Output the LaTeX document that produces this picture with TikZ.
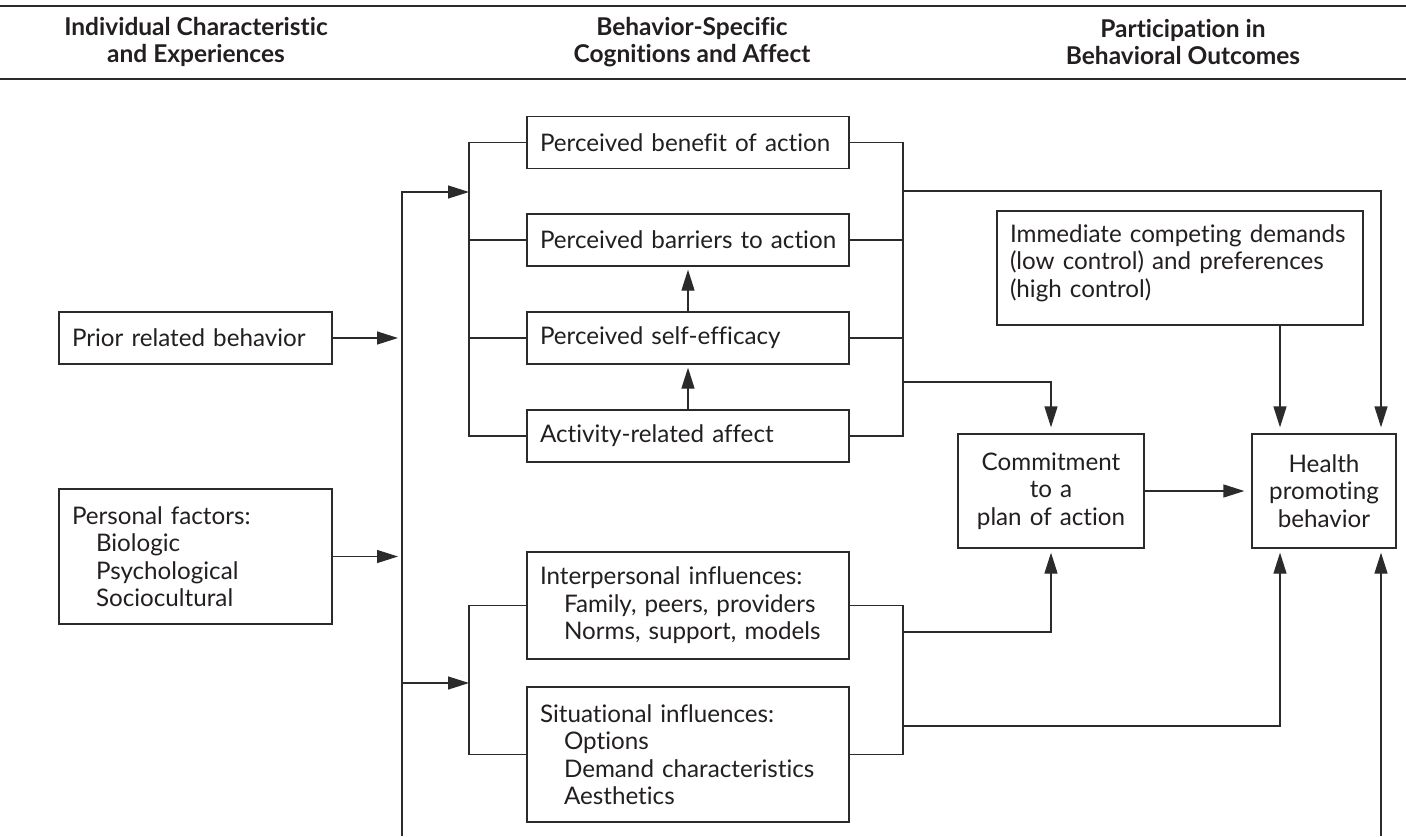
\documentclass[tikz,border=0pt]{standalone}
\usepackage{fontspec}
\setmainfont{Lato}[Ligatures=NoCommon]
\usetikzlibrary{arrows.meta}
\definecolor{ink}{HTML}{2B2B2B}
\definecolor{txt}{HTML}{231F20}
\newcommand{\indln}[1]{\mbox{\hspace*{24pt}#1}}
\newcommand{\oneln}[1]{\mbox{#1}}
\begin{document}
\begin{tikzpicture}[x=1pt,y=-1pt,
  every node/.style={text=txt},
  box/.style={draw=ink, line width=1.3pt, fill=white, inner xsep=13pt, inner ysep=0pt,
    align=left, font=\fontsize{24.2}{27.5}\selectfont},
  cbox/.style={box, align=center},
  conn/.style={draw=ink, line width=1.3pt},
  arr/.style={conn, -{Triangle[length=21pt,width=13pt]}},
  head/.style={font=\fontsize{24.5}{27}\selectfont\bfseries, align=center},
  rule/.style={draw=ink, line width=2pt}]
\useasboundingbox (0,0) rectangle (1406,836);

% header rules and titles
\coordinate (rTL) at (0,6);   \coordinate (rTR) at (1406,6);
\coordinate (rBL) at (0,79);  \coordinate (rBR) at (1406,79);
\draw[rule] (rTL) -- (rTR);
\draw[rule] (rBL) -- (rBR);
\node[head] (h1) at (196,42) {Individual Characteristic\\and Experiences};
\node[head] (h2) at (692,42) {Behavior-Specific\\Cognitions and Affect};
\node[head] (h3) at (1183,42) {Participation in\\Behavioral Outcomes};

% left column
\node[box, text width=247pt, minimum height=52pt] (prior) at (195.5,338) {\oneln{Prior related behavior}};
\node[box, text width=247pt, minimum height=135pt] (pf) at (195.5,556.5)
  {\oneln{Personal factors:}\\\indln{Biologic}\\\indln{Psychological}\\\indln{Sociocultural}};

% middle column
\node[box, text width=296pt, minimum height=52pt] (ben) at (688,142.5) {\oneln{Perceived benefit of action}};
\node[box, text width=296pt, minimum height=52pt] (bar) at (688,240) {\oneln{Perceived barriers to action}};
\node[box, text width=296pt, minimum height=52pt] (eff) at (688,338) {\oneln{Perceived self-efficacy}};
\node[box, text width=296pt, minimum height=52pt] (aff) at (688,436) {\oneln{Activity-related affect}};
\node[box, text width=296pt, minimum height=107pt] (ip) at (688,605.5)
  {\oneln{Interpersonal influences:}\\\indln{Family, peers, providers}\\\indln{Norms, support, models}};
\node[box, text width=296pt, minimum height=135pt] (sit) at (688,754.5)
  {\oneln{Situational influences:}\\\indln{Options}\\\indln{Demand characteristics}\\\indln{Aesthetics}};

% right column
\node[box, text width=340pt, minimum height=114pt] (imm) at (1180,268)
  {\oneln{Immediate competing demands}\\\oneln{(low control) and preferences}\\\oneln{(high control)}\rule[-14pt]{0pt}{14pt}};
\node[cbox, text width=160pt, minimum height=114pt] (cm) at (1051,491)
  {Commitment\\to a\\plan of action};
\node[cbox, text width=118pt, minimum height=114pt] (hl) at (1324,491)
  {Health\\promoting\\behavior};

% helper coordinates
\coordinate (spT) at (402,192);
\coordinate (spM) at (402,683);
\coordinate (spB) at (402,836);
\coordinate (ubA) at (469,192);
\coordinate (lbA) at (469,683);
\coordinate (ulbT) at (469,142.5);
\coordinate (ulbB) at (469,436);
\coordinate (urbT) at (903,142.5);
\coordinate (urbB) at (903,436);
\coordinate (llbT) at (469,605.5);
\coordinate (llbB) at (469,754.5);
\coordinate (lrbT) at (903,605.5);
\coordinate (lrbB) at (903,754.5);
\coordinate (o1) at (903,191);
\coordinate (o1c) at (1381,191);
\coordinate (o2) at (903,382);
\coordinate (o3) at (903,632);
\coordinate (o4) at (903,726);
\coordinate (hxa) at (1280,0);
\coordinate (rsB) at (1381,836);

% spine and inputs
\draw[arr] (spB) |- (ubA);
\draw[arr] (spM) -- (lbA);
\draw[arr, shorten >=4pt] (prior.east) -- (prior.east -| spT);
\draw[arr, shorten >=4pt] (pf.east) -- (pf.east -| spT);

% upper brackets
\draw[conn] (ben.west) -- (ulbT) -- (ulbB) -- (aff.west);
\draw[conn] (bar.west) -- (bar.west -| ulbT);
\draw[conn] (eff.west) -- (eff.west -| ulbT);
\draw[conn] (ben.east) -- (urbT) -- (urbB) -- (aff.east);
\draw[conn] (bar.east) -- (bar.east -| urbT);
\draw[conn] (eff.east) -- (eff.east -| urbT);

% lower brackets
\draw[conn] (ip.west) -- (llbT) -- (llbB) -- (sit.west);
\draw[conn] (ip.east) -- (lrbT) -- (lrbB) -- (sit.east);

% vertical arrows inside middle column
\draw[arr, shorten >=3pt] (eff.north) -- (bar.south);
\draw[arr, shorten >=3pt] (aff.north) -- (eff.south);

% outputs
\draw[arr, shorten >=6pt] (o1) -- (o1c) -- (o1c |- hl.north);
\draw[arr, shorten >=6pt] (o2) -| (cm.north);
\draw[arr, shorten >=6pt] (imm.south -| hxa) -- (hl.north -| hxa);
\draw[arr, shorten >=4pt] (o3) -| (cm.south);
\draw[arr, shorten >=4pt] (o4) -| (hl.south -| hxa);
\draw[arr, shorten >=4pt] (rsB) -- (hl.south -| rsB);
\draw[arr, shorten >=7pt] (cm.east) -- (hl.west);
\end{tikzpicture}
\end{document}
